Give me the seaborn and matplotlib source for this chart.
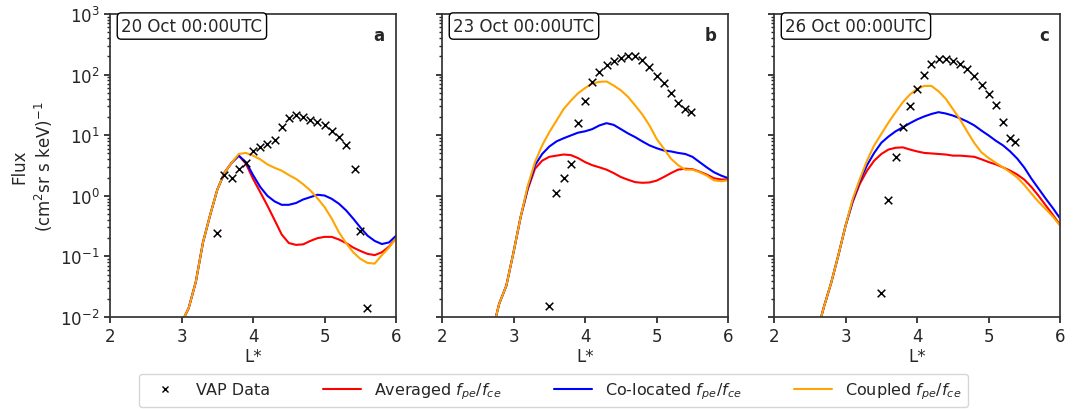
import numpy as np
import pandas as pd
import seaborn as sns
import matplotlib.pyplot as plt
from matplotlib.lines import Line2D

# ---- panel a : 20 Oct ----
L_a = [3.0, 3.1, 3.2, 3.3, 3.4, 3.5, 3.6, 3.7, 3.8, 3.9, 4.0, 4.1, 4.2, 4.3, 4.4, 4.5,
       4.6, 4.7, 4.8, 4.9, 5.0, 5.1, 5.2, 5.3, 5.4, 5.5, 5.6, 5.7, 5.8, 5.9, 6.0]
avg_a = [0.008, 0.014, 0.038, 0.17, 0.48, 1.26, 2.4, 3.5, 4.6, 3.4, 1.9, 1.15, 0.69, 0.4, 0.23, 0.166,
         0.155, 0.158, 0.18, 0.2, 0.21, 0.21, 0.19, 0.166, 0.14, 0.123, 0.11, 0.105, 0.117, 0.145, 0.2]
col_a = [0.008, 0.014, 0.038, 0.17, 0.48, 1.26, 2.4, 3.5, 4.6, 3.6, 2.2, 1.4, 1.0, 0.81, 0.71, 0.71,
         0.76, 0.87, 0.95, 1.04, 1.01, 0.89, 0.74, 0.575, 0.42, 0.3, 0.22, 0.18, 0.16, 0.17, 0.22]
cpl_a = [0.008, 0.014, 0.038, 0.17, 0.48, 1.26, 2.4, 3.5, 4.9, 5.1, 4.6, 4.0, 3.3, 2.9, 2.6, 2.2,
         1.9, 1.55, 1.23, 0.91, 0.65, 0.42, 0.25, 0.166, 0.117, 0.091, 0.078, 0.076, 0.105, 0.14, 0.2]
vapL_a = [3.5, 3.6, 3.7, 3.8, 3.9, 4.0, 4.1, 4.2, 4.3, 4.4, 4.5, 4.6, 4.7, 4.8, 4.9, 5.0,
          5.1, 5.2, 5.3, 5.42, 5.49, 5.59]
vap_a = [0.24, 2.2, 1.95, 2.8, 3.5, 5.5, 6.3, 7.1, 8.3, 13.4, 19.3, 21.6, 20.0, 17.9, 16.4, 14.8,
         11.6, 9.4, 7.0, 2.75, 0.26, 0.014]

# ---- panel b : 23 Oct ----
L_b = [2.7, 2.8, 2.9, 3.0, 3.1, 3.2, 3.3, 3.4, 3.5, 3.6, 3.7, 3.8, 3.9, 4.0, 4.1, 4.2, 4.3,
       4.4, 4.5, 4.6, 4.7, 4.8, 4.9, 5.0, 5.1, 5.2, 5.3, 5.4, 5.5, 5.6, 5.7, 5.8, 5.9, 6.0]
avg_b = [0.0056, 0.0166, 0.033, 0.117, 0.45, 1.29, 2.8, 3.8, 4.4, 4.6, 4.8, 4.7, 4.2, 3.6, 3.2, 2.95, 2.7,
         2.37, 2.04, 1.84, 1.68, 1.64, 1.66, 1.78, 2.04, 2.37, 2.7, 2.8, 2.75, 2.5, 2.24, 1.95, 1.86, 1.86]
col_b = [0.0056, 0.0166, 0.033, 0.117, 0.45, 1.38, 3.2, 4.9, 6.5, 7.9, 8.9, 9.9, 11.0, 11.6, 12.6, 14.5, 15.8,
         14.8, 12.6, 10.7, 9.3, 7.9, 6.8, 6.1, 5.6, 5.4, 5.1, 4.9, 4.4, 3.6, 2.95, 2.45, 2.16, 1.95]
cpl_b = [0.0056, 0.0166, 0.033, 0.117, 0.45, 1.48, 3.6, 6.8, 11.2, 17.4, 27, 37, 49, 60, 71, 76, 77,
         66, 55, 43, 31, 22, 14.5, 8.7, 6.0, 4.1, 3.2, 2.7, 2.7, 2.45, 2.16, 1.8, 1.74, 1.8]
vapL_b = [3.5, 3.6, 3.7, 3.8, 3.9, 4.0, 4.1, 4.2, 4.3, 4.4, 4.5, 4.6, 4.7, 4.8, 4.9, 5.0,
          5.1, 5.2, 5.3, 5.4, 5.48]
vap_b = [0.015, 1.12, 1.95, 3.3, 15.8, 36.8, 75, 112, 146, 168, 190, 206, 200, 177, 134, 96,
         72, 50, 33.7, 27, 24]

# ---- panel c : 26 Oct ----
L_c = [2.6, 2.7, 2.8, 2.9, 3.0, 3.1, 3.2, 3.3, 3.4, 3.5, 3.6, 3.7, 3.8, 3.9, 4.0, 4.1, 4.2, 4.3,
       4.4, 4.5, 4.6, 4.7, 4.8, 4.9, 5.0, 5.1, 5.2, 5.3, 5.4, 5.5, 5.6, 5.7, 5.8, 5.9, 6.0]
avg_c = [0.0056, 0.015, 0.037, 0.105, 0.32, 0.79, 1.58, 2.6, 3.8, 4.9, 5.8, 6.2, 6.3, 5.8, 5.4, 5.1, 5.0, 4.9,
         4.8, 4.6, 4.6, 4.5, 4.4, 4.0, 3.6, 3.3, 2.95, 2.6, 2.24, 1.84, 1.39, 0.99, 0.69, 0.48, 0.33]
col_c = [0.0056, 0.015, 0.037, 0.105, 0.32, 0.83, 1.78, 3.2, 5.1, 7.5, 9.5, 11.6, 13.5, 15.8, 18.2, 20.4, 22.4, 24,
         22.8, 21.1, 19, 16.8, 14.5, 11.9, 9.9, 8.1, 6.8, 5.4, 4.1, 2.9, 1.9, 1.3, 0.89, 0.62, 0.42]
cpl_c = [0.0056, 0.015, 0.037, 0.105, 0.32, 0.89, 1.9, 3.8, 6.8, 10.5, 16.2, 24, 35, 47, 58, 65, 65, 53,
         40, 27, 18.2, 11.5, 7.4, 5.2, 4.2, 3.5, 2.95, 2.45, 2.0, 1.5, 1.08, 0.79, 0.6, 0.45, 0.32]
vapL_c = [3.5, 3.6, 3.7, 3.8, 3.9, 4.0, 4.1, 4.2, 4.3, 4.4, 4.5, 4.6, 4.7, 4.8, 4.9, 5.0,
          5.1, 5.2, 5.3, 5.37]
vap_c = [0.025, 0.86, 4.4, 13.5, 30, 58, 100, 152, 181, 181, 170, 150, 124, 96, 67, 47,
         32, 16.4, 8.9, 7.7]

titles = ['20 Oct 00:00UTC', '23 Oct 00:00UTC', '26 Oct 00:00UTC']
letters = ['a', 'b', 'c']

sns.set_theme(style='ticks')
plt.rcParams['font.family'] = ['DejaVu Sans']
plt.rcParams['axes.edgecolor'] = '#333333'

fig = plt.figure(figsize=(10.78, 4.10), dpi=100)
lefts = [0.102, 0.410, 0.718]
axes = [fig.add_axes([l, 0.2244, 0.2655, 0.739]) for l in lefts]

panels = [(L_a, avg_a, col_a, cpl_a, vapL_a, vap_a),
          (L_b, avg_b, col_b, cpl_b, vapL_b, vap_b),
          (L_c, avg_c, col_c, cpl_c, vapL_c, vap_c)]

for i, ax in enumerate(axes):
    L, avg, col, cpl, vl, vf = panels[i]
    sns.scatterplot(x=vl, y=vf, marker='x', color='black', s=30, linewidth=1.1, ax=ax, zorder=3)
    sns.lineplot(x=L, y=avg, color='red', linewidth=1.5, ax=ax)
    sns.lineplot(x=L, y=col, color='blue', linewidth=1.5, ax=ax)
    sns.lineplot(x=L, y=cpl, color='orange', linewidth=1.5, ax=ax)
    ax.set_yscale('log')
    ax.set_ylim(1e-2, 1e3)
    ax.set_xlim(2, 6)
    ax.set_xticks([2, 3, 4, 5, 6])
    ax.set_xlabel('L*', fontsize=12, labelpad=1)
    ax.tick_params(labelsize=12, length=4)
    ax.tick_params(which='minor', length=2)
    for s in ax.spines.values():
        s.set_visible(True)
    ax.text(0.04, 0.99, titles[i], transform=ax.transAxes, va='top', ha='left', fontsize=12,
            bbox=dict(boxstyle='round,pad=0.25', fc='white', ec='black', lw=1))
    ax.text(0.96, 0.93, letters[i], transform=ax.transAxes, va='center', ha='right',
            fontsize=12, fontweight='bold')
    if i == 0:
        ax.set_ylabel('Flux\n(cm$^2$sr s keV)$^{-1}$', fontsize=12)
    else:
        ax.set_yticklabels([])
        ax.set_ylabel('')

handles = [Line2D([], [], marker='x', color='black', linestyle='none', markersize=5),
           Line2D([], [], color='red', lw=1.5),
           Line2D([], [], color='blue', lw=1.5),
           Line2D([], [], color='orange', lw=1.5)]
labels = ['VAP Data', 'Averaged $f_{pe}/f_{ce}$', 'Co-located $f_{pe}/f_{ce}$', 'Coupled $f_{pe}/f_{ce}$']
fig.legend(handles, labels, loc='upper center', ncol=4, mode='expand',
           bbox_to_anchor=(139 / 1078, 0.0, 829 / 1078, 0.0854), borderaxespad=0,
           fontsize=11.5, frameon=True, handlelength=2.4)

fig.savefig('out.png', dpi=100)
